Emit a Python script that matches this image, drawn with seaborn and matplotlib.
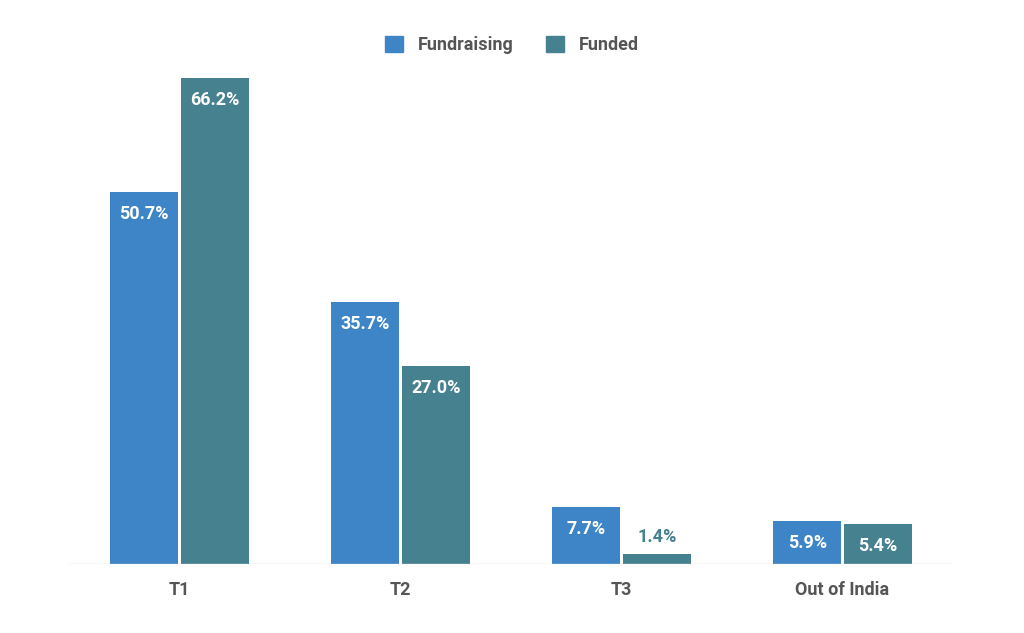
import matplotlib
matplotlib.use("Agg")
import matplotlib.pyplot as plt
import seaborn as sns
import pandas as pd

categories = ["T1", "T2", "T3", "Out of India"]
fundraising = [50.7, 35.7, 7.7, 5.9]
funded = [66.2, 27.0, 1.4, 5.4]
series = ["Fundraising", "Funded"]
colors = ["#3d85c6", "#45818e"]

df = pd.DataFrame({
    "cat": categories * 2,
    "val": fundraising + funded,
    "series": [series[0]] * 4 + [series[1]] * 4,
})

plt.rcParams["font.family"] = "Roboto"
fig = plt.figure(figsize=(10.24, 6.33), dpi=100)
ax = fig.add_axes([69/1024, 69/633, 884/1024, 514/633])
sns.barplot(data=df, x="cat", y="val", hue="series", palette=colors,
            width=0.64, gap=0.03, ax=ax, legend=False, saturation=1)
ax.set_ylim(0, 70)
ax.set_xlim(-0.5, 3.5)
ax.axhline(0, color="#cccccc", lw=1)
for s in ax.spines.values():
    s.set_visible(False)
ax.set_yticks([])
ax.set_xlabel("")
ax.set_ylabel("")
ax.tick_params(axis="x", length=0, pad=12, labelsize=13, labelcolor="#555555")
for t in ax.get_xticklabels():
    t.set_fontweight("bold")

for i, cont in enumerate(ax.containers):
    for bar in cont:
        h = bar.get_height()
        x = bar.get_x() + bar.get_width() / 2
        txt = f"{h:.1f}%"
        if h < 3:
            ax.text(x, h + 2.3, txt, ha="center", va="center", color=colors[i],
                    fontsize=13, fontweight="bold")
        else:
            ax.text(x, h - 3.0, txt, ha="center", va="center", color="white",
                    fontsize=13, fontweight="bold")

from matplotlib.patches import Patch
handles = [Patch(color=c) for c in colors]
fig.legend(handles, series, loc="center", bbox_to_anchor=(0.5, 1 - 45/633),
           ncol=2, frameon=False, fontsize=13, handlelength=1.0, handleheight=1.0,
           columnspacing=1.8, labelcolor="#555555",
           prop={"family": "Roboto", "weight": "bold", "size": 13})
fig.savefig("out.png", dpi=100)
